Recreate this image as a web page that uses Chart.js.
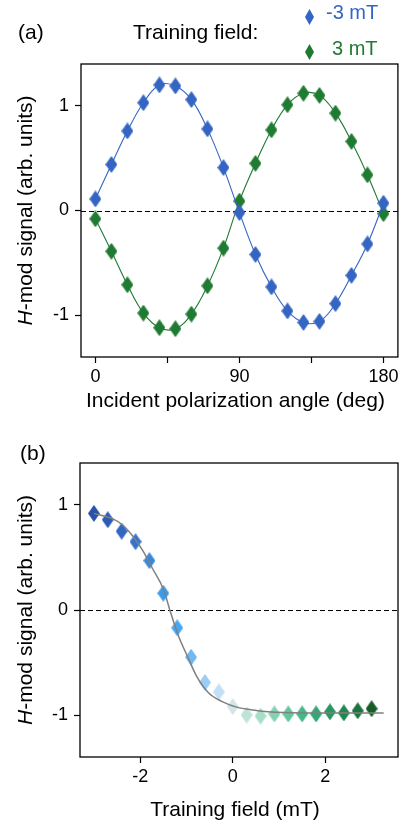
<!DOCTYPE html>
<html>
<head>
<meta charset="utf-8">
<script src="https://cdn.jsdelivr.net/npm/chart.js"></script>
<style>
  html, body { margin: 0; padding: 0; background: #fff; }
  #wrapA { position: absolute; left: 0; top: 0; width: 407px; height: 420px; }
  #wrapB { position: absolute; left: 0; top: 420px; width: 407px; height: 409px; }
</style>
</head>
<body>
<div id="wrapA"><canvas id="chartA" width="407" height="420"></canvas></div>
<div id="wrapB"><canvas id="chartB" width="407" height="409"></canvas></div>
<script>
// panel (a): signal vs incident polarization angle
const angles = [0, 10, 20, 30, 40, 50, 60, 70, 80, 90, 100, 110, 120, 130, 140, 150, 160, 170, 180];
const signalMinus3 = [0.11, 0.44, 0.76, 1.03, 1.20, 1.19, 1.06, 0.78, 0.41, -0.02, -0.42, -0.73, -0.96, -1.07, -1.06, -0.89, -0.62, -0.32, 0.07];
const signalPlus3 = [-0.08, -0.39, -0.71, -0.98, -1.12, -1.13, -0.99, -0.72, -0.36, 0.09, 0.45, 0.77, 1.01, 1.12, 1.10, 0.93, 0.66, 0.34, -0.03];
const angleTicks = [0, 45, 90, 135, 180];
const angleLabels = [0, 90, 180];

// panel (b): signal vs training field
const fields = [-3, -2.7, -2.4, -2.1, -1.8, -1.5, -1.2, -0.9, -0.6, -0.3, 0, 0.3, 0.6, 0.9, 1.2, 1.5, 1.8, 2.1, 2.4, 2.7, 3];
const fieldSignal = [0.92, 0.86, 0.75, 0.65, 0.47, 0.16, -0.17, -0.45, -0.69, -0.78, -0.92, -1.00, -1.01, -0.99, -0.99, -0.99, -0.99, -0.97, -0.98, -0.96, -0.94];
const fitX = [-3.0, -2.6, -2.38, -2.17, -1.95, -1.74, -1.49, -1.36, -1.17, -0.98, -0.77, -0.52, -0.24, 0.12, 0.4, 0.76, 1.5, 3.26];
const fitY = [0.92, 0.87, 0.81, 0.71, 0.57, 0.40, 0.19, 0.0, -0.25, -0.44, -0.64, -0.79, -0.87, -0.93, -0.95, -0.97, -0.98, -0.98];
const fieldTicks = [-2, 0, 2];
const signalTicks = [-1, 0, 1];

const BLUE = '#3565c2';
const GREEN = '#1f7a32';
const fieldColors = ['#2a52a6', '#2d5cb6', '#3266c4', '#3572d0', '#3a88dc', '#3b9be8', '#4aa6ee', '#6fb8f2', '#9ccdf5', '#c3dff7',
  '#d4e5e8', '#bfe4d5', '#a8dec6', '#84d2b2', '#62c69e', '#45b88a', '#31a877', '#289762', '#208650', '#1b743f', '#155e2a'];
const FONT = '"Liberation Sans", Arial, sans-serif';

function diamond(color, w, h) {
  const c = document.createElement('canvas');
  c.width = w; c.height = h;
  const g = c.getContext('2d');
  g.fillStyle = color;
  g.beginPath();
  g.moveTo(w / 2, 0); g.lineTo(w, h / 2); g.lineTo(w / 2, h); g.lineTo(0, h / 2);
  g.closePath();
  g.fill();
  return c;
}

function pts(xs, ys) { return xs.map((x, i) => ({ x: x, y: ys[i] })); }

// frame, dashed zero line, axis titles and panel text
function decor(opts) {
  return {
    id: 'decor',
    beforeDatasetsDraw(chart) {
      const { ctx, chartArea: a, scales } = chart;
      const y0 = Math.round(scales.y.getPixelForValue(0)) + 0.5;
      ctx.save();
      ctx.strokeStyle = '#000';
      ctx.lineWidth = 1.2;
      ctx.setLineDash([5, 3]);
      ctx.beginPath();
      ctx.moveTo(a.left, y0); ctx.lineTo(a.right, y0);
      ctx.stroke();
      ctx.restore();
    },
    afterDraw(chart) {
      const { ctx, chartArea: a } = chart;
      ctx.save();
      ctx.strokeStyle = '#000';
      ctx.lineWidth = 1.3;
      ctx.strokeRect(a.left, a.top, a.right - a.left, a.bottom - a.top);

      ctx.fillStyle = '#000';
      ctx.textBaseline = 'middle';
      ctx.textAlign = 'left';
      ctx.font = '21px ' + FONT;
      ctx.fillText(opts.panel, opts.panelX, opts.panelY);

      // x title
      ctx.textAlign = 'center';
      ctx.fillText(opts.xTitle, (a.left + a.right) / 2 - 4, opts.xTitleY);

      // y title with italic H
      const italic = 'italic 21px ' + FONT;
      const normal = '21px ' + FONT;
      ctx.font = italic;
      const w1 = ctx.measureText('H').width;
      ctx.font = normal;
      const rest = '-mod signal (arb. units)';
      const w2 = ctx.measureText(rest).width;
      ctx.translate(opts.yTitleX, (a.top + a.bottom) / 2);
      ctx.rotate(-Math.PI / 2);
      ctx.textAlign = 'left';
      ctx.font = italic;
      ctx.fillText('H', -(w1 + w2) / 2, 0);
      ctx.font = normal;
      ctx.fillText(rest, -(w1 + w2) / 2 + w1, 0);
      ctx.restore();

      if (opts.legend) {
        ctx.save();
        ctx.textBaseline = 'middle';
        ctx.font = '21px ' + FONT;
        ctx.fillStyle = '#000';
        ctx.textAlign = 'left';
        ctx.fillText('Training field:', 133, 33);
        ctx.drawImage(diamond(BLUE, 9, 16), 305, 9);
        ctx.drawImage(diamond(GREEN, 9, 16), 305, 44);
        ctx.font = '20px ' + FONT;
        ctx.fillStyle = BLUE;
        ctx.fillText('-3 mT', 326, 13);
        ctx.fillStyle = GREEN;
        ctx.fillText('3 mT', 332, 49);
        ctx.restore();
      }
    }
  };
}

function axis(min, max, ticks, labels, size, fit) {
  return {
    type: 'linear',
    min: min,
    max: max,
    afterBuildTicks: s => { s.ticks = ticks.map(v => ({ value: v })); },
    afterFit: fit,
    border: { display: false },
    grid: { drawOnChartArea: false, drawTicks: true, tickLength: 6, tickColor: '#000', tickWidth: 1.2 },
    ticks: {
      color: '#000',
      font: { family: FONT, size: 18 },
      padding: size,
      maxRotation: 0,
      autoSkip: false,
      callback: v => (labels.indexOf(v) >= 0 ? String(v) : '')
    }
  };
}

const markA = diamond(BLUE, 12, 17);
const markB = diamond(GREEN, 12, 17);

new Chart(document.getElementById('chartA'), {
  type: 'scatter',
  data: {
    datasets: [
      {
        data: pts(angles, signalMinus3),
        showLine: true,
        borderColor: BLUE,
        borderWidth: 1.1,
        tension: 0.4,
        pointStyle: markA,
        pointRadius: 8
      },
      {
        data: pts(angles, signalPlus3),
        showLine: true,
        borderColor: GREEN,
        borderWidth: 1.1,
        tension: 0.4,
        pointStyle: markB,
        pointRadius: 8
      }
    ]
  },
  options: {
    responsive: false,
    animation: false,
    events: [],
    layout: { padding: { top: 64, right: 6, left: 0, bottom: 0 } },
    plugins: { legend: { display: false }, tooltip: { enabled: false } },
    scales: {
      x: axis(-9, 189, angleTicks, angleLabels, 3, s => { s.height = 63; }),
      y: axis(-1.4, 1.4, signalTicks, signalTicks, 6, s => { s.width = 81; })
    }
  },
  plugins: [decor({ panel: '(a)', panelX: 18, panelY: 33, xTitle: 'Incident polarization angle (deg)', xTitleY: 401, yTitleX: 26, legend: true })]
});

new Chart(document.getElementById('chartB'), {
  type: 'scatter',
  data: {
    datasets: [
      {
        data: pts(fitX, fitY),
        showLine: true,
        borderColor: '#808080',
        borderWidth: 1.5,
        cubicInterpolationMode: 'monotone',
        pointRadius: 0
      },
      {
        data: pts(fields, fieldSignal),
        showLine: false,
        pointStyle: fieldColors.map(c => diamond(c, 12, 17)),
        pointRadius: 8
      }
    ]
  },
  options: {
    responsive: false,
    animation: false,
    events: [],
    layout: { padding: { top: 43, right: 6, left: 0, bottom: 0 } },
    plugins: { legend: { display: false }, tooltip: { enabled: false } },
    scales: {
      x: axis(-3.3, 3.57, fieldTicks, fieldTicks, 3, s => { s.height = 72; }),
      y: axis(-1.4, 1.4, signalTicks, signalTicks, 6, s => { s.width = 80; })
    }
  },
  plugins: [decor({ panel: '(b)', panelX: 20, panelY: 34, xTitle: 'Training field (mT)', xTitleY: 390, yTitleX: 26, legend: false })]
});
</script>
</body>
</html>
